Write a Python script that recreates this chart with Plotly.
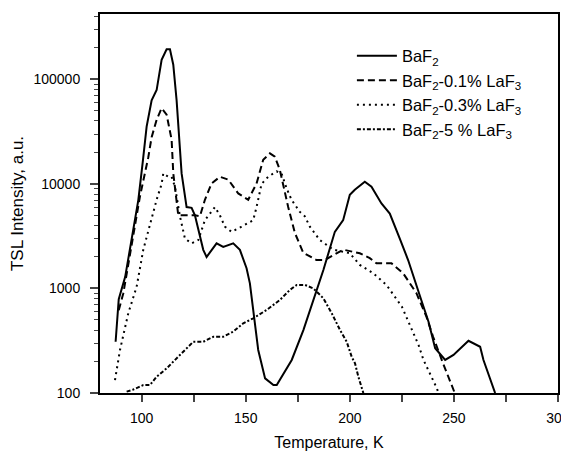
import plotly.graph_objects as go

# BaF2 (pure)
t_baf2 = [87.5, 89, 92.1, 95, 96, 98.4, 100.5, 102.4, 104.8, 107.2, 109.6, 112, 113.6, 115.2, 116.8, 119.2, 121.6,
          124, 125.6, 129.6, 131.2, 136, 139.2, 144, 147.2, 150.4, 152, 153.6, 156, 159.3, 163.3, 164.9,
          167.3, 172.1, 177.7, 179.3, 183.3, 187.3, 192.8, 196.8, 200, 202.4, 207.2, 210.4, 215.2, 219.2,
          224, 228, 233.8, 237.8, 241, 245.8, 249.8, 253.8, 257, 262.6, 264.2, 269.8]
i_baf2 = [309, 790, 1290, 2900, 3640, 7000, 16000, 35300, 63000, 79000, 154000, 194000, 194000, 138000, 63000, 12600, 6000,
          5900, 5000, 2340, 2000, 2700, 2500, 2700, 2340, 1560, 1120, 620, 258, 138, 119, 119,
          143, 207, 400, 500, 866, 1500, 3480, 4500, 7860, 8800, 10500, 9400, 6500, 5200,
          3000, 1870, 834, 480, 268, 207, 231, 277, 316, 277, 207, 100]

# BaF2-0.1% LaF3
t_01 = [89, 91.2, 93.6, 96, 99.2, 103.2, 104.8, 107.2, 109.6, 112, 114.4, 115.2, 116.8, 117.6, 120.8, 125.6,
        128, 130.4, 133.6, 137.6, 141.6, 146.4, 151.2, 155.2, 158.4, 161.6, 164, 166.4, 170.4, 173.6, 177.6,
        184, 188, 196.8, 204.8, 209.6, 212.8, 220, 225.6, 232, 236.8, 240, 244.8, 248.8, 250.4]
i_01 = [620, 900, 1700, 3300, 7600, 18000, 28000, 41000, 53000, 46000, 26500, 12600, 7000, 5000, 5000, 5000,
        4900, 7050, 10100, 11700, 11000, 8100, 7050, 10100, 17000, 19600, 18200, 13600, 6000, 3400, 2200,
        1870, 1870, 2350, 2170, 1950, 1740, 1740, 1400, 900, 537, 345, 192, 124, 100]

# BaF2-0.3% LaF3
t_03 = [87.2, 89.6, 93.6, 97.6, 100.8, 104, 107.2, 109.6, 110.4, 112.8, 114.4, 116, 118.4, 120.8, 124, 127.2,
        130.4, 135.2, 137.6, 140, 143.2, 148, 153.6, 155.2, 157.6, 160.8, 164.8, 167.2, 169.6, 172, 176,
        178.4, 180.8, 185.6, 192, 200, 204.8, 211.2, 217.6, 225, 229, 233, 235.4, 238.6, 241.8, 242.6]
i_03 = [133, 258, 580, 1040, 2350, 4200, 7050, 10000, 12600, 11700, 11700, 9400, 4900, 3000, 2700, 2900,
        4500, 6000, 5000, 3900, 3480, 3900, 4500, 6000, 10000, 11700, 13200, 12600, 9100, 7050, 5400,
        4900, 3900, 2900, 2350, 2170, 1680, 1400, 1080, 670, 430, 288, 207, 154, 111, 100]

# BaF2-5 % LaF3
t_5 = [92.8, 96, 100.8, 104, 107.2, 112, 118.4, 124.8, 129.6, 134.4, 139.2, 144, 148.8, 153.6, 160, 166.4,
       171.2, 174.5, 178.5, 182.5, 187.3, 191.3, 195.3, 198.5, 200.9, 202.5, 204.1, 205.7, 206.5]
i_5 = [103, 108, 119, 119, 143, 172, 231, 309, 309, 345, 345, 386, 464, 518, 622, 775,
       968, 1080, 1080, 1000, 805, 580, 400, 309, 222, 192, 143, 115, 100]

names = ['BaF<sub>2</sub>', 'BaF<sub>2</sub>-0.1% LaF<sub>3</sub>',
         'BaF<sub>2</sub>-0.3% LaF<sub>3</sub>', 'BaF<sub>2</sub>-5 % LaF<sub>3</sub>']

y_major = [100, 1000, 10000, 100000]
y_minor = [m * 10 ** k for k in range(2, 6) for m in range(2, 10)]

fig = go.Figure()
fig.add_trace(go.Scatter(x=t_baf2, y=i_baf2, mode='lines', name=names[0],
                         line=dict(color='black', width=2)))
fig.add_trace(go.Scatter(x=t_01, y=i_01, mode='lines', name=names[1],
                         line=dict(color='black', width=2, dash='7px,4px')))
fig.add_trace(go.Scatter(x=t_03, y=i_03, mode='lines', name=names[2],
                         line=dict(color='black', width=2, dash='2px,4px')))
fig.add_trace(go.Scatter(x=t_5, y=i_5, mode='lines', name=names[3],
                         line=dict(color='black', width=2, dash='4px,2px,2px,2px')))

# page body has an 8px margin, so the figure is sized/margined to land the plot box where the reference has it
fig.update_layout(
    width=565, height=443,
    margin=dict(l=92, r=15, t=6, b=58),
    paper_bgcolor='white', plot_bgcolor='white',
    font=dict(family='Arial, Liberation Sans, sans-serif', size=13, color='black'),
    showlegend=True,
    legend=dict(x=0.55, y=0.935, xanchor='left', yanchor='top',
                bgcolor='rgba(0,0,0,0)', font=dict(size=16.5),
                tracegroupgap=0, itemwidth=40),
)

fig.update_xaxes(range=[80, 300], tickvals=[100, 150, 200, 250, 300], ticks='outside', ticklen=7,
                 tickwidth=1.5, showline=True, linewidth=2, linecolor='black', mirror=True,
                 showgrid=False, zeroline=False, tickfont=dict(size=14), ticklabelstandoff=4,
                 automargin=False,
                 minor=dict(tickvals=[125, 175, 225, 275], ticks='outside', ticklen=7, tickwidth=1.5),
                 title=dict(text='Temperature, K', font=dict(size=16), standoff=16))

fig.update_yaxes(type='log', range=[2, 5.625], tickvals=y_major, ticktext=[str(v) for v in y_major],
                 ticks='outside', ticklen=8, tickwidth=1.5, showline=True, linewidth=2,
                 linecolor='black', mirror=True, showgrid=False, zeroline=False,
                 tickfont=dict(size=14), ticklabelstandoff=7, automargin=False,
                 minor=dict(tickvals=y_minor, ticks='outside', ticklen=4, tickwidth=1),
                 title=dict(text='TSL Intensity, a.u.', font=dict(size=17), standoff=22))

fig.write_html("out.html")
